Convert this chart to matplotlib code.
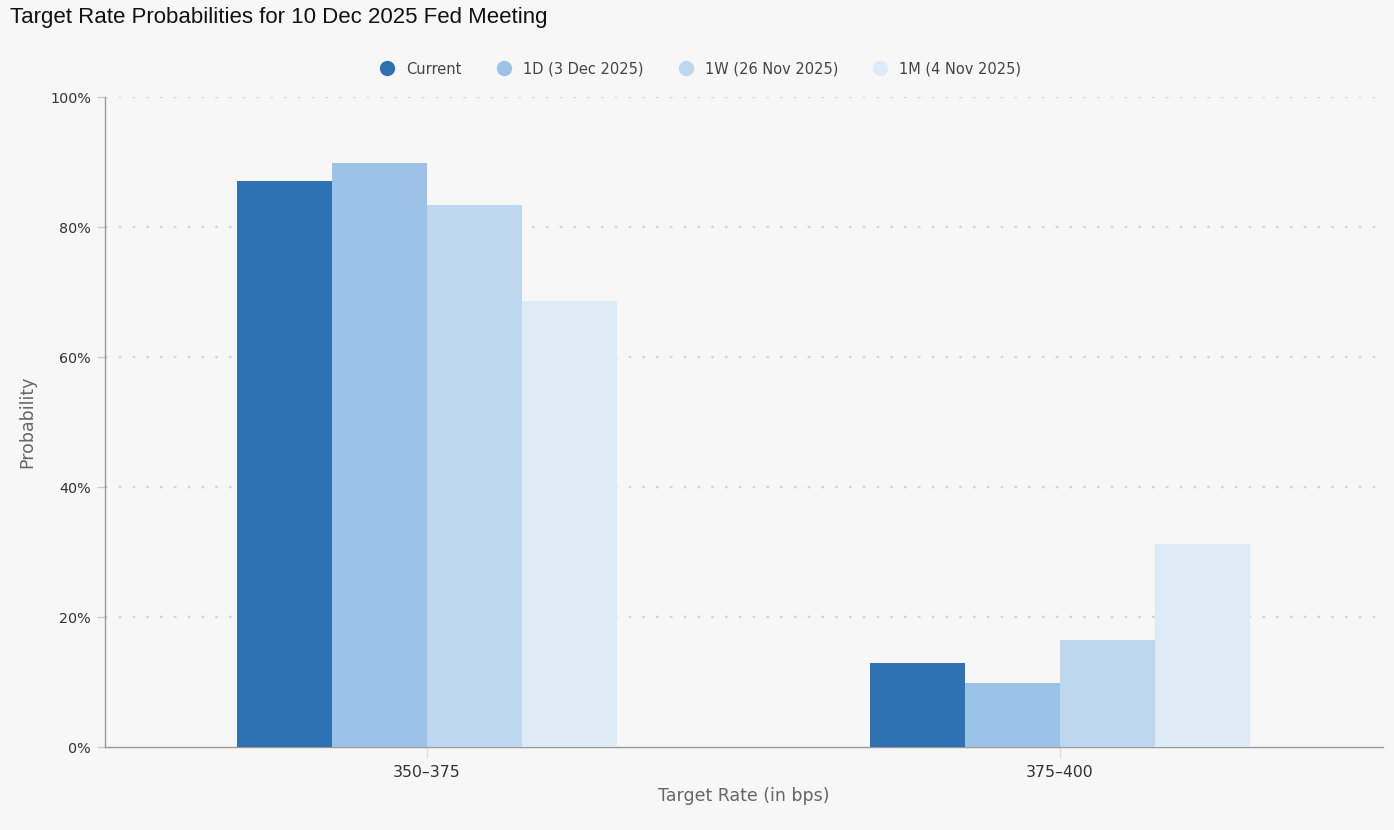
import matplotlib
matplotlib.use("Agg")
import matplotlib.pyplot as plt
from matplotlib.lines import Line2D
import numpy as np

categories = ["350–375", "375–400"]
series_names = ["Current", "1D (3 Dec 2025)", "1W (26 Nov 2025)", "1M (4 Nov 2025)"]
current = [87.1, 12.9]
d1 = [89.9, 9.8]
w1 = [83.4, 16.5]
m1 = [68.6, 31.3]
series_values = [current, d1, w1, m1]
colors = ["#2e72b4", "#9cc2e7", "#bdd7ee", "#ddebf7"]
yticks = [0, 20, 40, 60, 80, 100]

bg = "#f7f7f7"
fig = plt.figure(figsize=(13.94, 8.30), dpi=100, facecolor=bg)
ax = fig.add_axes([105/1394, 1-747/830, (1383-105)/1394, (747-97)/830])
ax.set_facecolor(bg)

x = np.arange(len(categories))
bw = 0.150
for i, (vals, c) in enumerate(zip(series_values, colors)):
    ax.bar(x + (i - 1.5) * bw, vals, width=bw, color=c, edgecolor="none", zorder=3)

ax.set_xlim(-0.509, 1.511)
ax.set_ylim(0, 100)
ax.set_yticks(yticks)
ax.set_yticklabels([f"{v}%" for v in yticks], fontsize=10.3, color="#333333", family="DejaVu Sans")
ax.set_xticks(x)
ax.set_xticklabels(categories, fontsize=11.3, color="#333333", family="DejaVu Sans")
ax.tick_params(axis="y", length=6, color="#cccccc", width=1, pad=4)
ax.tick_params(axis="x", length=8, color="#dddddd", width=1, pad=5)

for v in yticks[1:]:
    ax.axhline(v, color="#d6d6d6", linestyle=(0, (1.2, 5)), linewidth=1.6, zorder=1)

for s in ["top", "right"]:
    ax.spines[s].set_visible(False)
ax.spines["left"].set_color("#999999")
ax.spines["bottom"].set_color("#999999")
ax.spines["left"].set_linewidth(1)
ax.spines["bottom"].set_linewidth(1)

ax.set_ylabel("Probability", fontsize=12.5, color="#666666", family="DejaVu Sans", labelpad=10)
ax.set_xlabel("Target Rate (in bps)", fontsize=12.5, color="#666666", family="DejaVu Sans", labelpad=5)

fig.text(10/1394, 1-18/830, "Target Rate Probabilities for 10 Dec 2025 Fed Meeting",
         fontsize=16, family="Liberation Sans", color="#111111", va="center", ha="left")

handles = [Line2D([], [], marker="o", linestyle="none", markersize=11, markerfacecolor=c,
                  markeredgecolor="none") for c in colors]
leg = fig.legend(handles, series_names, loc="center", bbox_to_anchor=(0.5, 1-69/830), ncol=4,
                 frameon=False, handletextpad=0.3, columnspacing=1.9,
                 prop={"family": "DejaVu Sans", "size": 10.5})
for t in leg.get_texts():
    t.set_color("#444444")

fig.savefig("out.png", dpi=100, facecolor=bg)
